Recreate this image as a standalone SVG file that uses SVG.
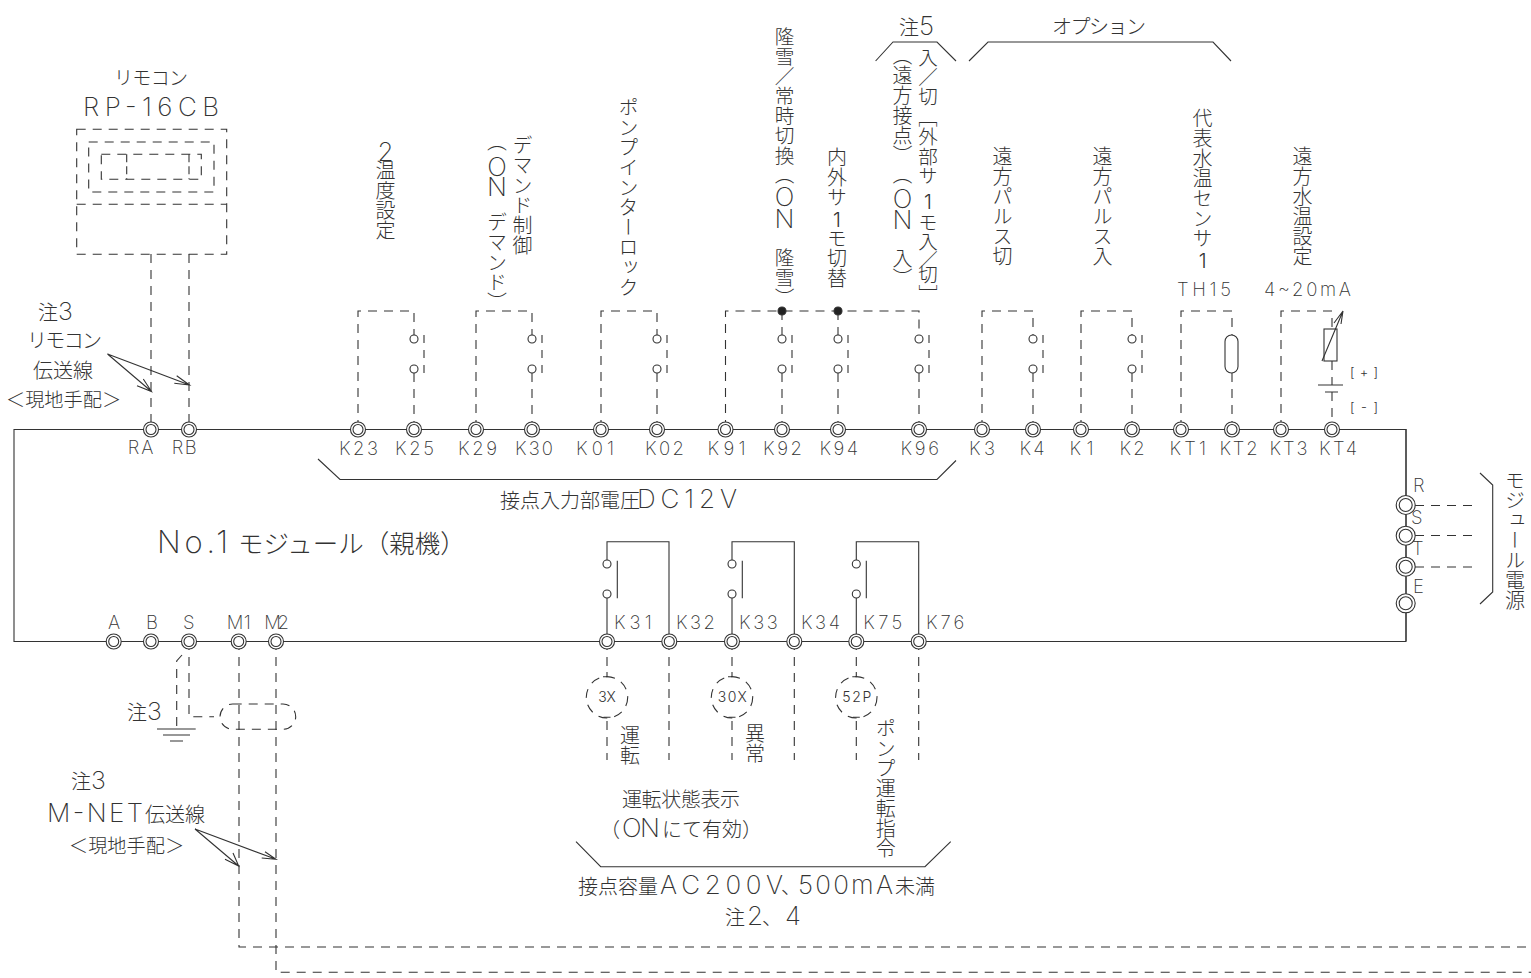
<svg xmlns="http://www.w3.org/2000/svg" width="1531" height="978" viewBox="0 0 1531 978">
<style>
text{font-family:"Noto Sans CJK JP","Noto Sans",sans-serif;font-weight:300;font-size:20px;fill:#333}
.l{font-family:Inter,"Liberation Sans",sans-serif;font-weight:200;font-size:18.500px}
.s{font-family:Inter,"Liberation Sans",sans-serif;font-weight:300;font-size:14px}
.v{writing-mode:vertical-rl;text-orientation:upright}
.m{font-family:Inter,"Liberation Sans",sans-serif;font-weight:200;font-size:26px}
.vm{font-family:Inter,"Liberation Sans",sans-serif;font-weight:200;font-size:26px}
.vs{font-family:Inter,"Liberation Sans",sans-serif;font-weight:300;font-size:20px}
path,line,circle,rect,ellipse{fill:none;stroke:#333;stroke-width:1.1}
.d{stroke-dasharray:9 7}
.t circle{fill:#fff}
.dot{fill:#222}
</style>
<defs>
<g id="term" class="t"><circle r="7.5"/><circle r="5"/></g>
<g id="termR" class="t"><circle r="9.5"/><circle r="6.5"/></g>
<g id="sw"><circle cy="-15" r="4" style="fill:#fff"/><circle cy="15" r="4" style="fill:#fff"/><path class="d" d="M10-19V19" style="stroke-dasharray:8 7"/></g>
</defs>
<rect width="1531" height="978" style="fill:#fff;stroke:none"/>
<g id="connectors">
<path d="M14 429.5H1406V641.5H14Z"/>
<path class="d" d="M151 254V423M189 254V423"/>
<path d="M107.500 354L151.500 391.500M137 385.700L151.500 391.500L143.300 379M107.500 354L189.500 385M174.300 383.300L189.500 385L176.700 375.700"/>
<path d="M875.600 61L893 42H937L956 61M969 61L988 42H1213L1231 61M318 459L340 479.500H937L956 460.500M1480 473L1492.700 485V592L1480 604M576 841.700L600.700 866.700H925L950.700 841.700"/>
<path class="d" d="M358 429V311H414V335M414 373V429M476 429V311H532V335M532 373V429M601 429V311H657V335M657 373V429M725.500 429V311H919V335M919 373V429M782 311V335M782 373V429M838 311V335M838 373V429M982 429V311H1033V335M1033 373V429M1081 429V311H1132V335M1132 373V429M1181 429V311H1232V335M1232 373V429M1281 429V311H1332V329"/>
<path class="d" d="M1332 361V385"/>
<path class="d" d="M1332 392V429"/>
<path d="M607 560V541.700H669V641.500M607 598V641.500M732 560V541.700H794.300V641.500M732 598V641.500M856.300 560V541.700H918.700V641.500M856.300 598V641.500M617.300 560.700V598.300M742.300 560.700V598.300M866.300 560.700V598.300"/>
<path class="d" d="M607 641V672M732 641V672M856.300 641V672M669 641V760M794.300 641V760M918.700 641V760M607 721V760M732 721V760M856.300 721V760"/>
<path d="M603 676.700H607V672M728 676.700H732V672M852.300 676.700H856.300V672M603.500 717.300H610.500M728.500 717.300H735.500M852.800 717.300H859.800"/>
<path class="d" d="M1415 505.500H1475M1415 535.500H1475M1415 567H1475"/>
<path d="M1406 429V641"/>
<path class="d" d="M189 641V716.700H214"/>
<path class="d" d="M182 655L176.700 661V729"/>
<path d="M157 729H195.700M163 735H190M170 741H183"/>
<rect class="d" x="220" y="704" width="75.700" height="25.300" rx="12.700"/>
<path class="d" d="M239 641V947H1531M276 641V972.300H1531"/>
<path d="M195 829L238.700 866M225 859.300L238.700 866L233 853M195 829L276 859.300M261.700 858L276 859.300L265 851.700"/>
</g>
<g id="remote">
<text x="151" y="85" text-anchor="middle" textLength="74" style="font-size:19px">リモコン</text>
<text class="m" x="83" y="116" textLength="136">RP-16CB</text>
<rect class="d" x="76.700" y="129.300" width="150" height="125"/>
<path class="d" d="M76.700 204.300H226.700"/>
<rect class="d" x="88.700" y="142" width="125.300" height="50"/>
<rect class="d" x="101.300" y="154.300" width="100" height="25"/>
<path class="d" d="M126.700 154.300V179.300M189 154.300V179.300" style="stroke-dasharray:8 4"/>
</g>
<g id="notes">
<text x="38" y="320">注<tspan class="m" style="font-size:25px">3</tspan></text>
<text x="27" y="348" textLength="75">リモコン</text>
<text x="33" y="378">伝送線</text>
<text x="6" y="407" style="font-size:19.200px">＜現地手配＞</text>
<text x="127" y="720">注<tspan class="m" style="font-size:25px">3</tspan></text>
<text x="71" y="789">注<tspan class="m" style="font-size:25px">3</tspan></text>
<text x="47" y="822"><tspan class="m" textLength="96">M-NET</tspan><tspan x="145">伝送線</tspan></text>
<text x="69" y="853" style="font-size:19.200px">＜現地手配＞</text>
<text x="157" y="553"><tspan class="m" style="font-size:31px" textLength="71">No.1</tspan><tspan x="238" style="font-size:25.500px">モジュール（親機）</tspan></text>
<text x="500" y="508"><tspan>接点入力部電圧</tspan><tspan class="m" x="637" textLength="100">DC12V</tspan></text>
<text x="622" y="807" textLength="118">運転状態表示</text>
<text x="600" y="837"><tspan>（</tspan><tspan class="m" x="622" textLength="38">ON</tspan><tspan x="662">にて有効）</tspan></text>
<text x="578" y="894"><tspan>接点容量</tspan><tspan class="m" x="660" textLength="123">AC200V</tspan><tspan x="781">、</tspan><tspan class="m" x="798" textLength="95">500mA</tspan><tspan x="895">未満</tspan></text>
<text x="725" y="925"><tspan>注</tspan><tspan class="m" x="747">2</tspan><tspan x="762">、</tspan><tspan class="m" x="785">4</tspan></text>
<text x="899" y="35">注<tspan class="m">5</tspan></text>
<text x="1052" y="34" textLength="94">オプション</text>
<text class="l" x="1177" y="296" textLength="54">TH15</text>
<text class="l" x="1264" y="296" textLength="87">4~20mA</text>
<text class="s" x="1350" y="377" style="font-size:13px" textLength="28">[+]</text>
<text class="s" x="1350" y="412" style="font-size:13px" textLength="28">[-]</text>
</g>
<g id="vertical-labels">
<text class="v" x="385.500" y="136"><tspan class="vm">2</tspan><tspan y="160">温度設定</tspan></text>
<text class="v" x="522.500" y="135">デマンド制御</text>
<text class="v" x="497" y="131">（<tspan class="vm" y="151">O</tspan><tspan class="vm" y="171">N</tspan><tspan y="192">　デマンド）</tspan></text>
<text class="v" x="628.500" y="97">ポンプインターロック</text>
<text class="v" x="784.500" y="27" style="font-size:19.700px">隆雪／常時切換（<tspan class="vm" y="181">O</tspan><tspan class="vm" y="203">N</tspan><tspan y="228">　隆雪）</tspan></text>
<text class="v" x="837" y="147">内外サ<tspan class="vs" y="208">1</tspan><tspan y="228">モ切替</tspan></text>
<text class="v" x="928" y="48" style="font-size:19.500px">入／切<tspan y="107">［</tspan><tspan y="127">外部サ</tspan><tspan class="vs" y="189">1</tspan><tspan y="212">モ入</tspan><tspan y="250">／</tspan><tspan y="265">切］</tspan></text>
<text class="v" x="902.500" y="45">（<tspan y="65">遠方接点）</tspan><tspan y="164">（</tspan><tspan class="vm" y="183">O</tspan><tspan class="vm" y="204">N</tspan><tspan y="228">　入）</tspan></text>
<text class="v" x="1002.600" y="146">遠方パルス切</text>
<text class="v" x="1102.600" y="146">遠方パルス入</text>
<text class="v" x="1202.600" y="108">代表水温センサ<tspan class="vs" y="249">1</tspan></text>
<text class="v" x="1302.600" y="146">遠方水温設定</text>
<text class="v" x="630" y="725">運転</text>
<text class="v" x="755" y="723">異常</text>
<text class="v" x="885.700" y="718">ポンプ運転指令</text>
<text class="v" x="1515" y="470">モジュール電源</text>
</g>
<g id="switches">
<use href="#sw" x="414" y="354"/><use href="#sw" x="532" y="354"/><use href="#sw" x="657" y="354"/><use href="#sw" x="782" y="354"/><use href="#sw" x="838" y="354"/><use href="#sw" x="919" y="354"/><use href="#sw" x="1033" y="354"/><use href="#sw" x="1132" y="354"/>
<circle cx="607" cy="564" r="4"/><circle cx="607" cy="594" r="4"/><circle cx="732" cy="564" r="4"/><circle cx="732" cy="594" r="4"/><circle cx="856.300" cy="564" r="4"/><circle cx="856.300" cy="594" r="4"/>
<circle class="dot" cx="782" cy="311" r="4"/><circle class="dot" cx="838" cy="311" r="4"/>
</g>
<g id="sensor-TH15"><rect x="1225" y="335" width="13" height="38" rx="6.500"/></g>
<g id="setter"><rect x="1324" y="329" width="13" height="32"/><path d="M1322 361L1343 311M1343 311L1334 323M1343 311L1341 324M1318 385H1343M1325 392H1338"/></g>
<g id="relay-3X"><circle class="d" cx="607" cy="697.300" r="20.700"/><text class="s" x="607" y="702" text-anchor="middle">3X</text></g>
<g id="relay-30X"><circle class="d" cx="732" cy="697.300" r="20.700"/><text class="s" x="717.700" y="702" textLength="29">30X</text></g>
<g id="relay-52P"><circle class="d" cx="856.300" cy="697.300" r="20.700"/><text class="s" x="842.300" y="702" textLength="29">52P</text></g>
<g id="T-RA"><use href="#term" x="151" y="429.500"/><text class="l" x="127.700" y="454" textLength="25.600">RA</text></g>
<g id="T-RB"><use href="#term" x="189" y="429.500"/><text class="l" x="171.700" y="454" textLength="25">RB</text></g>
<g id="T-K23"><use href="#term" x="358" y="429.500"/><text class="l" x="339" y="455" textLength="39">K23</text></g>
<g id="T-K25"><use href="#term" x="414" y="429.500"/><text class="l" x="395" y="455" textLength="39">K25</text></g>
<g id="T-K29"><use href="#term" x="476" y="429.500"/><text class="l" x="458" y="455" textLength="39">K29</text></g>
<g id="T-K30"><use href="#term" x="532" y="429.500"/><text class="l" x="515" y="455" textLength="38">K30</text></g>
<g id="T-K01"><use href="#term" x="601" y="429.500"/><text class="l" x="576" y="455" textLength="38">K01</text></g>
<g id="T-K02"><use href="#term" x="657" y="429.500"/><text class="l" x="645" y="455" textLength="39">K02</text></g>
<g id="T-K91"><use href="#term" x="725.500" y="429.500"/><text class="l" x="707.600" y="455" textLength="38">K91</text></g>
<g id="T-K92"><use href="#term" x="782" y="429.500"/><text class="l" x="763" y="455" textLength="39">K92</text></g>
<g id="T-K94"><use href="#term" x="838" y="429.500"/><text class="l" x="819.500" y="455" textLength="38.500">K94</text></g>
<g id="T-K96"><use href="#term" x="919" y="429.500"/><text class="l" x="900.500" y="455" textLength="38.500">K96</text></g>
<g id="T-K3"><use href="#term" x="982" y="429.500"/><text class="l" x="969" y="455" textLength="26">K3</text></g>
<g id="T-K4"><use href="#term" x="1033" y="429.500"/><text class="l" x="1019.600" y="455" textLength="25">K4</text></g>
<g id="T-K1"><use href="#term" x="1081" y="429.500"/><text class="l" x="1069.600" y="455" textLength="24">K1</text></g>
<g id="T-K2"><use href="#term" x="1132" y="429.500"/><text class="l" x="1119.600" y="455" textLength="25">K2</text></g>
<g id="T-KT1"><use href="#term" x="1181" y="429.500"/><text class="l" x="1169.600" y="455" textLength="36.500">KT1</text></g>
<g id="T-KT2"><use href="#term" x="1232" y="429.500"/><text class="l" x="1219.600" y="455" textLength="38">KT2</text></g>
<g id="T-KT3"><use href="#term" x="1281" y="429.500"/><text class="l" x="1269.600" y="455" textLength="38">KT3</text></g>
<g id="T-KT4"><use href="#term" x="1332" y="429.500"/><text class="l" x="1319" y="455" textLength="38">KT4</text></g>
<g id="T-A"><use href="#term" x="113.700" y="641.500"/><text class="l" x="108" y="629" textLength="13">A</text></g>
<g id="T-B"><use href="#term" x="151" y="641.500"/><text class="l" x="146" y="629" textLength="11">B</text></g>
<g id="T-S"><use href="#term" x="189" y="641.500"/><text class="l" x="183" y="629" textLength="12">S</text></g>
<g id="T-M1"><use href="#term" x="238.700" y="641.500"/><text class="l" x="226.700" y="629" textLength="24">M1</text></g>
<g id="T-M2"><use href="#term" x="276" y="641.500"/><text class="l" x="264.300" y="629" textLength="24.700">M2</text></g>
<g id="T-K31"><use href="#term" x="607" y="641.500"/><text class="l" x="614" y="629" textLength="37.700">K31</text></g>
<g id="T-K32"><use href="#term" x="669.300" y="641.500"/><text class="l" x="676" y="629" textLength="39">K32</text></g>
<g id="T-K33"><use href="#term" x="732" y="641.500"/><text class="l" x="739" y="629" textLength="38.700">K33</text></g>
<g id="T-K34"><use href="#term" x="794.300" y="641.500"/><text class="l" x="801" y="629" textLength="39">K34</text></g>
<g id="T-K75"><use href="#term" x="856.300" y="641.500"/><text class="l" x="863.300" y="629" textLength="39">K75</text></g>
<g id="T-K76"><use href="#term" x="918.700" y="641.500"/><text class="l" x="926" y="629" textLength="38.300">K76</text></g>
<g id="T-R"><use href="#termR" x="1405.700" y="505"/><text class="l" x="1413" y="491.700">R</text></g>
<g id="T-S2"><use href="#termR" x="1405.700" y="535.700"/><text class="l" x="1411" y="524">S</text></g>
<g id="T-T"><use href="#termR" x="1405.700" y="566.700"/><text class="l" x="1412" y="555">T</text></g>
<g id="T-E"><use href="#termR" x="1405.700" y="603.300"/><text class="l" x="1413" y="593">E</text></g>
</svg>
